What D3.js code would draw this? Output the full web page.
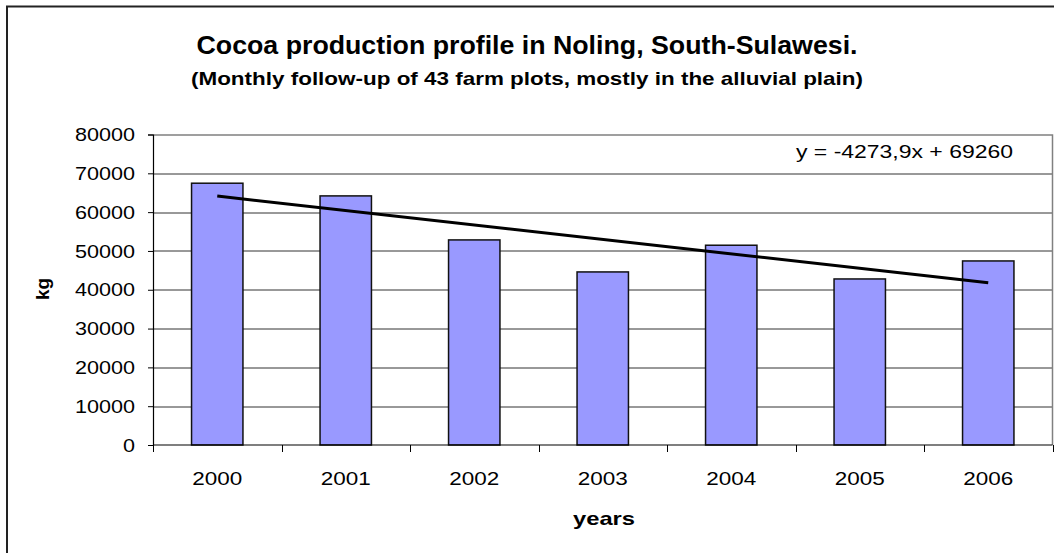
<!DOCTYPE html>
<html>
<head>
<meta charset="utf-8">
<script src="https://cdn.jsdelivr.net/npm/d3@7"></script>
<style>
  body { margin: 0; background: #fff; }
  text { font-family: "Liberation Sans", Arial, sans-serif; }
</style>
</head>
<body>
<div id="chart"></div>
<script>
// data
const years = ["2000", "2001", "2002", "2003", "2004", "2005", "2006"];
const production = [67450, 64180, 52840, 44590, 51470, 42780, 47420];
const yTicks = [0, 10000, 20000, 30000, 40000, 50000, 60000, 70000, 80000];
const equationLabel = "y = -4273,9x + 69260";

const W = 1054, H = 553;
const margin = {top: 134.5, right: 1.5, bottom: 108, left: 153};
const width = W - margin.left - margin.right,
      height = H - margin.top - margin.bottom;

const svg = d3.select("#chart").append("svg")
    .attr("width", W)
    .attr("height", H);

// outer chart frame (cut off at right/bottom)
svg.append("rect")
    .attr("x", 7).attr("y", 6.5)
    .attr("width", W + 20).attr("height", H + 20)
    .attr("fill", "none")
    .attr("stroke", "#222")
    .attr("stroke-width", 2);

// titles (Excel draws them condensed, so squeeze to measured width)
svg.append("text")
    .attr("x", 527).attr("y", 54)
    .attr("text-anchor", "middle")
    .attr("font-weight", "bold")
    .attr("font-size", 26)
    .attr("textLength", 661)
    .attr("lengthAdjust", "spacingAndGlyphs")
    .text("Cocoa production profile in Noling, South-Sulawesi.");

svg.append("text")
    .attr("x", 527).attr("y", 85)
    .attr("text-anchor", "middle")
    .attr("font-weight", "bold")
    .attr("font-size", 19)
    .attr("textLength", 672)
    .attr("lengthAdjust", "spacingAndGlyphs")
    .text("(Monthly follow-up of 43 farm plots, mostly in the alluvial plain)");

const g = svg.append("g")
    .attr("transform", "translate(" + margin.left + "," + margin.top + ")");

let x = d3.scaleBand()
  .domain(years)
  .range([0, width])
  .paddingInner(0.6)
  .paddingOuter(0.3);

let y = d3.scaleLinear()
  .domain([0, 80000])
  .range([height, 0]);

// grid lines
g.append("g")
  .selectAll("line")
  .data(yTicks.slice(1, -1))
  .enter()
  .append("line")
  .attr("x1", 0).attr("x2", width)
  .attr("y1", d => Math.round(y(d)) + 0.5)
  .attr("y2", d => Math.round(y(d)) + 0.5)
  .attr("stroke", "#333")
  .attr("stroke-width", 1);

// plot area border (top and right)
g.append("path")
  .attr("d", d3.line()([[0, 0.5], [width, 0.5], [width, height]]))
  .attr("fill", "none")
  .attr("stroke", "#808080")
  .attr("stroke-width", 1.5);

// bars
g.append("g")
  .selectAll("rect")
  .data(production)
  .enter()
  .append("rect")
    .attr("x", (d, i) => x(years[i]))
    .attr("y", d => y(d))
    .attr("width", x.bandwidth())
    .attr("height", d => height - y(d))
    .attr("fill", "#9999FF")
    .attr("stroke", "#111")
    .attr("stroke-width", 1.5);

// Y axis
const yAxis = g.append("g")
  .call(d3.axisLeft(y).tickValues(yTicks).tickFormat(d3.format("d")).tickSize(5).tickPadding(13));
yAxis.select(".domain").attr("stroke", "#000").attr("stroke-width", 1.2);
yAxis.selectAll(".tick line").attr("stroke", "#000");
yAxis.selectAll("text")
  .attr("font-size", 19)
  .attr("font-family", "Liberation Sans, Arial, sans-serif")
  .attr("fill", "#000")
  .attr("textLength", d => String(d).length * 12)
  .attr("lengthAdjust", "spacingAndGlyphs");

// X axis: ticks at category boundaries
const step = width / years.length;
const xAxisG = g.append("g").attr("transform", "translate(0," + height + ")");
xAxisG.append("line")
  .attr("x1", 0).attr("x2", width)
  .attr("y1", 0).attr("y2", 0)
  .attr("stroke", "#000").attr("stroke-width", 1.2);
xAxisG.selectAll(".tk")
  .data(d3.range(years.length + 1))
  .enter()
  .append("line")
  .attr("class", "tk")
  .attr("x1", d => Math.round(d * step) + 0.5)
  .attr("x2", d => Math.round(d * step) + 0.5)
  .attr("y1", 0).attr("y2", 7)
  .attr("stroke", "#000");
xAxisG.selectAll(".lbl")
  .data(years)
  .enter()
  .append("text")
  .attr("class", "lbl")
  .attr("x", d => x(d) + x.bandwidth() / 2)
  .attr("y", 40)
  .attr("text-anchor", "middle")
  .attr("font-size", 19)
  .attr("textLength", 50)
  .attr("lengthAdjust", "spacingAndGlyphs")
  .text(d => d);

// linear trend from the bars (least squares)
const n = production.length;
const xs = d3.range(1, n + 1);
const mx = d3.mean(xs), my = d3.mean(production);
const slope = d3.sum(xs, (v, i) => (v - mx) * (production[i] - my)) / d3.sum(xs, v => (v - mx) * (v - mx));
const icept = my - slope * mx;
const trend = [[x(years[0]) + x.bandwidth() / 2, y(icept + slope * 1)],
               [x(years[n - 1]) + x.bandwidth() / 2, y(icept + slope * n)]];
g.append("path")
  .attr("d", d3.line()(trend))
  .attr("stroke", "#000")
  .attr("stroke-width", 3)
  .attr("fill", "none");

g.append("text")
  .attr("x", 860).attr("y", 23)
  .attr("text-anchor", "end")
  .attr("font-size", 19)
  .attr("textLength", 217)
  .attr("lengthAdjust", "spacingAndGlyphs")
  .text(equationLabel);

// axis titles
svg.append("text")
  .attr("transform", "translate(49,289) rotate(-90)")
  .attr("text-anchor", "middle")
  .attr("font-weight", "bold")
  .attr("font-size", 19)
  .text("kg");

svg.append("text")
  .attr("x", 604).attr("y", 525)
  .attr("text-anchor", "middle")
  .attr("font-weight", "bold")
  .attr("font-size", 19)
  .attr("textLength", 62)
  .attr("lengthAdjust", "spacingAndGlyphs")
  .text("years");
</script>
</body>
</html>
